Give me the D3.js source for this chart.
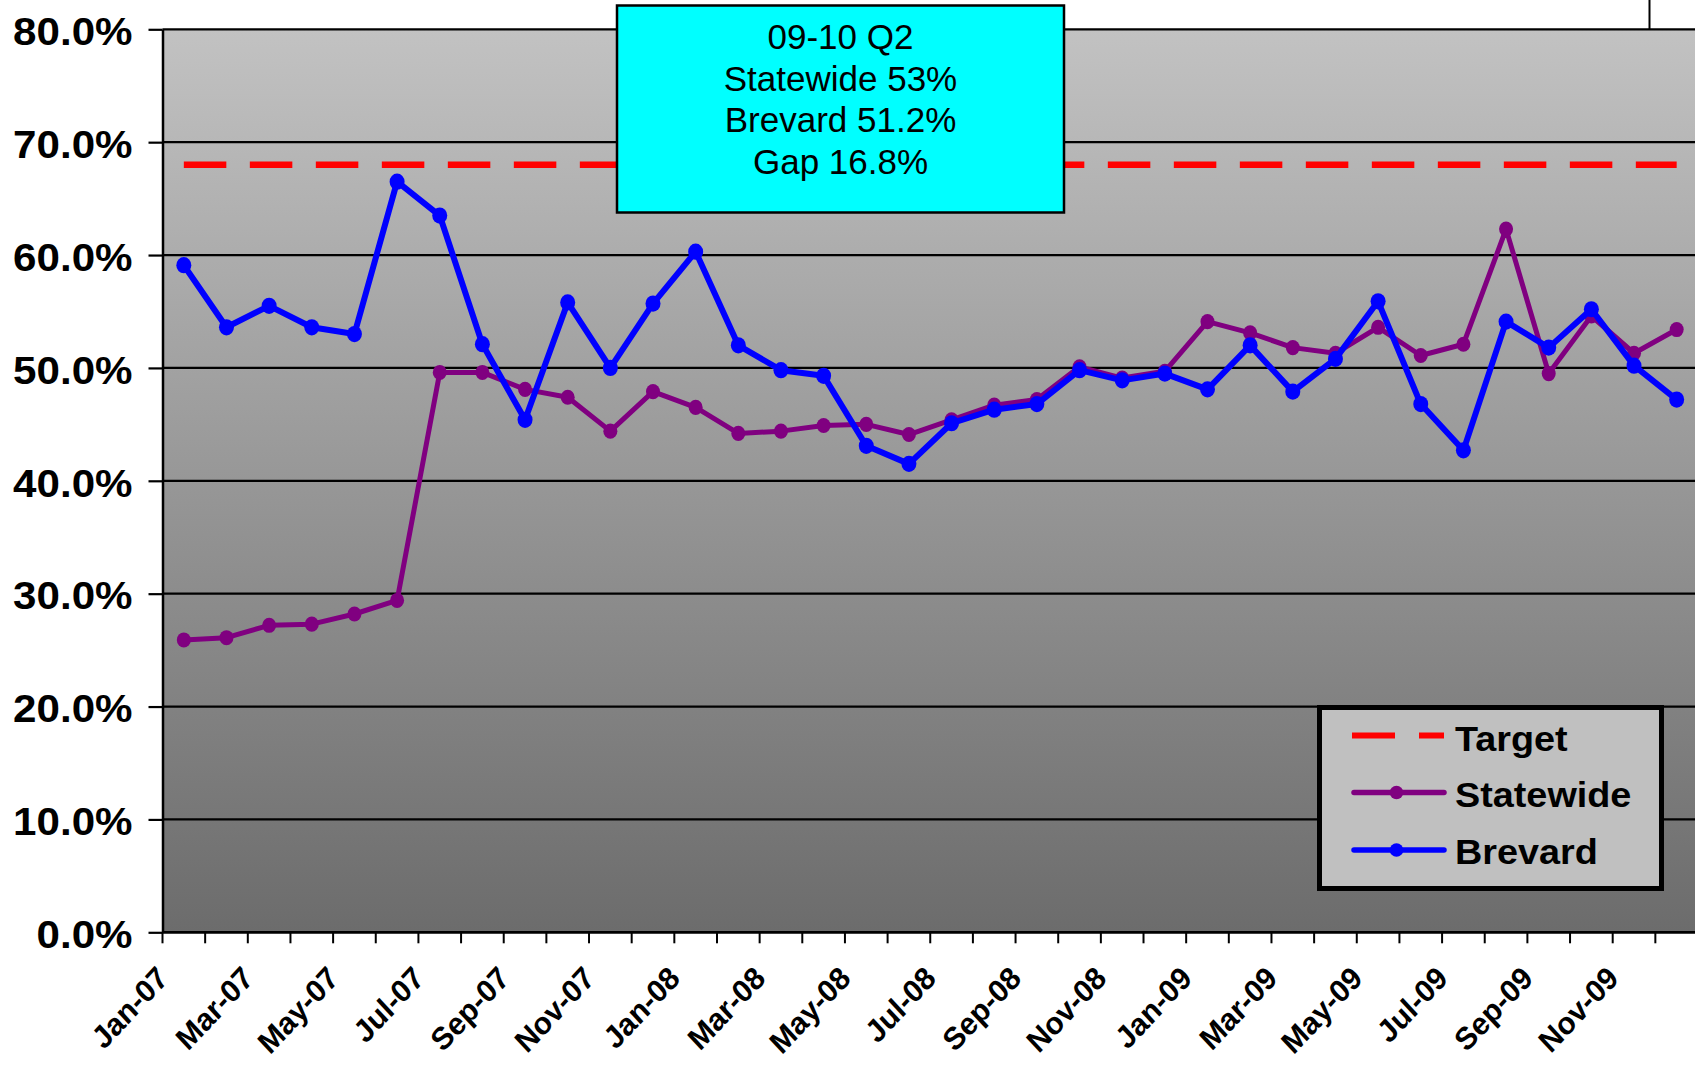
<!DOCTYPE html>
<html><head><meta charset="utf-8">
<script src="https://cdn.jsdelivr.net/npm/d3@7"></script>
<style>
html,body{margin:0;padding:0;background:#fff;}
svg{display:block;font-family:"Liberation Sans",Arial,sans-serif;}
</style></head>
<body>
<svg id="chart" width="1695" height="1066"></svg>
<script>
const months = ["Jan-07","Feb-07","Mar-07","Apr-07","May-07","Jun-07","Jul-07","Aug-07","Sep-07","Oct-07","Nov-07","Dec-07",
"Jan-08","Feb-08","Mar-08","Apr-08","May-08","Jun-08","Jul-08","Aug-08","Sep-08","Oct-08","Nov-08","Dec-08",
"Jan-09","Feb-09","Mar-09","Apr-09","May-09","Jun-09","Jul-09","Aug-09","Sep-09","Oct-09","Nov-09","Dec-09"];
const shownLabels = ["Jan-07","Mar-07","May-07","Jul-07","Sep-07","Nov-07","Jan-08","Mar-08","May-08","Jul-08","Sep-08","Nov-08","Jan-09","Mar-09","May-09","Jul-09","Sep-09","Nov-09"];
const statewide = [25.9,26.1,27.2,27.3,28.2,29.4,49.6,49.6,48.1,47.4,44.4,47.9,46.5,44.2,44.4,44.9,45.0,44.1,45.4,46.7,47.2,50.1,49.1,49.7,54.1,53.1,51.8,51.3,53.6,51.1,52.1,62.3,49.5,54.6,51.3,53.4];
const brevard = [59.1,53.6,55.5,53.6,53.0,66.5,63.5,52.1,45.4,55.8,50.0,55.7,60.3,52.0,49.8,49.3,43.1,41.5,45.1,46.3,46.8,49.8,48.9,49.5,48.1,52.0,47.9,50.8,55.9,46.8,42.7,54.1,51.8,55.2,50.2,47.2];
const targetValue = 68;
const yTicks = [0,10,20,30,40,50,60,70,80];
const seriesNames = ["Target","Statewide","Brevard"];
const seriesColors = {Target:"#ff0000", Statewide:"#800080", Brevard:"#0000ff"};
const noteLines = ["09-10 Q2","Statewide 53%","Brevard 51.2%","Gap 16.8%"];

const svg = d3.select("#chart");
const L = 162.5, R = 1698, T = 29.3, B = 932.3;
const x = d3.scaleBand().domain(months).range([L, R]);
const y = d3.scaleLinear().domain([0, 80]).range([B, T]);
const cx = m => x(m) + x.bandwidth() / 2;

// gradient
const defs = svg.append("defs");
const grad = defs.append("linearGradient").attr("id","bg").attr("x1",0).attr("y1",0).attr("x2",0).attr("y2",1);
grad.append("stop").attr("offset","0%").attr("stop-color","#c2c2c2");
grad.append("stop").attr("offset","100%").attr("stop-color","#6c6c6c");

svg.append("rect").attr("x",L).attr("y",T).attr("width",R-L).attr("height",B-T).attr("fill","url(#bg)");

// top-right border stub
svg.append("line").attr("x1",1649.5).attr("x2",1649.5).attr("y1",0).attr("y2",T).attr("stroke","#000").attr("stroke-width",2);

// gridlines
svg.append("g").selectAll("line").data(yTicks).join("line")
  .attr("x1",L).attr("x2",R).attr("y1",d=>y(d)).attr("y2",d=>y(d))
  .attr("stroke","#000").attr("stroke-width",2.2);

// y axis
const yAxis = svg.append("g").attr("transform",`translate(${L},0)`)
  .call(d3.axisLeft(y).tickValues(yTicks).tickSize(14).tickSizeOuter(0).tickFormat(d=>d3.format(".1f")(d)+"%"));
yAxis.select(".domain").attr("stroke","#000").attr("stroke-width",2.5);
yAxis.selectAll(".tick line").attr("stroke","#000").attr("stroke-width",2.2);
yAxis.selectAll(".tick text")
  .attr("font-family","'Liberation Sans',Arial,sans-serif").attr("font-weight","bold").attr("font-size",39)
  .attr("fill","#000").attr("x",-30/1.08).attr("dy","0.39em").attr("transform","scale(1.08,1)");

// x axis line and ticks at band edges
const edges = months.map(m => x(m)).concat([R]);
svg.append("line").attr("x1",L).attr("x2",R).attr("y1",B).attr("y2",B).attr("stroke","#000").attr("stroke-width",2.5);
svg.append("g").selectAll("line").data(edges).join("line")
  .attr("x1",d=>d).attr("x2",d=>d).attr("y1",B).attr("y2",B+11).attr("stroke","#000").attr("stroke-width",2);

// x labels
svg.append("g").selectAll("text").data(shownLabels).join("text")
  .attr("transform", d => `translate(${cx(d)-29},${964}) scale(0.98,1.05) rotate(-45)`)
  .attr("text-anchor","end").attr("dy","0.72em")
  .attr("font-weight","bold").attr("font-size",30).attr("fill","#000")
  .text(d=>d);

// target line
svg.append("line").attr("x1",cx(months[0])).attr("x2",cx(months[months.length-1]))
  .attr("y1",y(targetValue)).attr("y2",y(targetValue))
  .attr("stroke",seriesColors.Target).attr("stroke-width",6.5).attr("stroke-dasharray","42.5,23.5");

// series
function drawSeries(vals, color, lw, r) {
  const line = d3.line().x((d,i)=>cx(months[i])).y(d=>y(d));
  svg.append("path").datum(vals).attr("d",line).attr("fill","none")
    .attr("stroke",color).attr("stroke-width",lw).attr("stroke-linejoin","round");
  svg.append("g").selectAll("ellipse").data(vals).join("ellipse")
    .attr("cx",(d,i)=>cx(months[i])).attr("cy",d=>y(d)).attr("rx",r).attr("ry",r*1.08).attr("fill",color);
}
drawSeries(statewide, seriesColors.Statewide, 5, 7);
drawSeries(brevard, seriesColors.Brevard, 6, 7.5);

// annotation box
svg.append("rect").attr("x",617).attr("y",5.5).attr("width",447).attr("height",207)
  .attr("fill","#00ffff").attr("stroke","#000").attr("stroke-width",2.5);
svg.append("g").selectAll("text").data(noteLines).join("text")
  .attr("x",840.5).attr("y",(d,i)=>49+i*41.5).attr("text-anchor","middle")
  .attr("font-size",35).attr("fill","#000").text(d=>d);

// legend
const lg = svg.append("g");
lg.append("rect").attr("x",1319.5).attr("y",707.5).attr("width",342).attr("height",181)
  .attr("fill","#c0c0c0").attr("stroke","#000").attr("stroke-width",5);
const legY = {Target:735.5, Statewide:792.5, Brevard:850};
const legText = {Target:751, Statewide:807, Brevard:864};
seriesNames.forEach(n => {
  if (n === "Target") {
    lg.append("line").attr("x1",1352).attr("x2",1444).attr("y1",legY[n]).attr("y2",legY[n])
      .attr("stroke",seriesColors[n]).attr("stroke-width",6).attr("stroke-dasharray","43,24");
  } else {
    lg.append("line").attr("x1",1354).attr("x2",1444).attr("y1",legY[n]).attr("y2",legY[n])
      .attr("stroke",seriesColors[n]).attr("stroke-width",5.5).attr("stroke-linecap","round");
    lg.append("circle").attr("cx",1396.5).attr("cy",legY[n]).attr("r",6.8).attr("fill",seriesColors[n]);
  }
  lg.append("text").attr("transform",`translate(1455,${legText[n]}) scale(1.08,1)`)
    .attr("font-weight","bold").attr("font-size",35).attr("fill","#000").text(n);
});
</script>
</body></html>
